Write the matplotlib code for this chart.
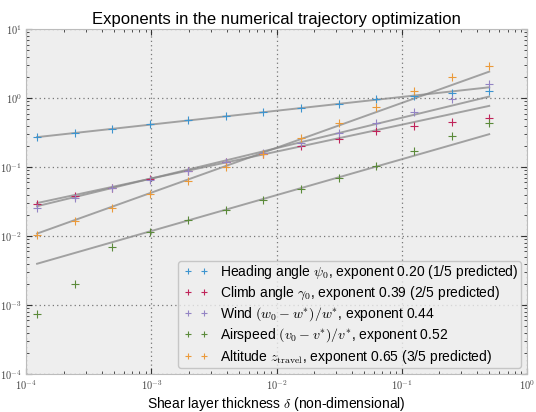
import numpy as np
import matplotlib
matplotlib.use("Agg")
import matplotlib.pyplot as plt
from matplotlib.ticker import FuncFormatter
from matplotlib.lines import Line2D
from matplotlib.legend_handler import HandlerLine2D

plt.rcParams['font.family'] = ['Liberation Sans', 'DejaVu Sans']
plt.rcParams['mathtext.fontset'] = 'cm'

# shear layer thickness values (delta = 2^-13 ... 2^-1)
delta = [1.22e-4, 2.44e-4, 4.88e-4, 9.77e-4, 1.95e-3, 3.91e-3, 7.81e-3,
         1.56e-2, 3.13e-2, 6.25e-2, 0.125, 0.25, 0.5]

heading = [0.278, 0.318, 0.363, 0.42, 0.48, 0.548, 0.627, 0.732, 0.837, 0.967, 1.08, 1.21, 1.29]
climb = [0.0288, 0.0384, 0.0507, 0.067, 0.0895, 0.118, 0.156, 0.201, 0.260, 0.333, 0.402, 0.459, 0.525]
wind = [0.0252, 0.0363, 0.0496, 0.0655, 0.0875, 0.117, 0.160, 0.223, 0.311, 0.434, 0.627, 0.978, 1.61]
airspeed = [7.5e-4, 2.04e-3, 6.9e-3, 0.0113, 0.0169, 0.0238, 0.0336, 0.048, 0.0693, 0.103, 0.172, 0.281, 0.444]
altitude = [0.0103, 0.0165, 0.0255, 0.0402, 0.0634, 0.1, 0.156, 0.269, 0.444, 0.757, 1.29, 2.01, 2.94]

# fitted power laws: exponent and fitted value at delta = 0.5
exponents = [0.20, 0.39, 0.44, 0.52, 0.65]
fit_at_half = [1.44, 0.774, 1.057, 0.301, 2.43]

labels = [
    r"Heading angle $\psi_0$, exponent 0.20 (1/5 predicted)",
    r"Climb angle $\gamma_0$, exponent 0.39 (2/5 predicted)",
    r"Wind $(w_0-w^{*})/w^{*}$, exponent 0.44",
    r"Airspeed $(v_0-v^{*})/v^{*}$, exponent 0.52",
    r"Altitude $z_{\mathrm{travel}}$, exponent 0.65 (3/5 predicted)",
]
colors = ['#3d94cf', '#c0245a', '#9384c4', '#5b8a3a', '#eb9a3a']
series = [heading, climb, wind, airspeed, altitude]

fig = plt.figure(figsize=(5.36, 4.12), dpi=100)
ax = fig.add_axes([0.049, 0.092, 0.934, 0.837])
ax.set_facecolor('#eeeeee')

d = np.array(delta)
for ys, c, lab in zip(series, colors, labels):
    ax.plot(delta, ys, '+', color=c, ms=5.5, mew=0.8, label=lab, zorder=3)
for p, f in zip(exponents, fit_at_half):
    ax.plot(d, f * (d / 0.5) ** p, '-', color='#888888', alpha=0.75, lw=1.4, zorder=2)

ax.set_xscale('log')
ax.set_yscale('log')
ax.set_xlim(1e-4, 1)
ax.set_ylim(1e-4, 10)
fmt = FuncFormatter(lambda v, pos: r'$10^{%d}$' % int(round(np.log10(v))))
ax.xaxis.set_major_formatter(fmt)
ax.yaxis.set_major_formatter(fmt)
ax.grid(True, which='major', color='#777777', linestyle=(0, (1, 2.5)), linewidth=0.9)
ax.tick_params(which='both', direction='in', top=True, right=True, labelsize=7.5,
               colors='#333333', labelcolor='#444444')
ax.tick_params(which='major', length=4, pad=3)
ax.tick_params(which='minor', length=2)
for s in ax.spines.values():
    s.set_color('#bcbcbc')

ax.set_title("Exponents in the numerical trajectory optimization", fontsize=12, pad=4)
ax.set_xlabel(r"Shear layer thickness $\delta$ (non-dimensional)", fontsize=10, labelpad=2)

leg = ax.legend(loc='lower right', numpoints=2, fontsize=10, frameon=True,
                handlelength=2.3, handletextpad=0.6, borderpad=0.15, labelspacing=0.25,
                fancybox=True, borderaxespad=0.45, markerscale=0.85,
                handler_map={Line2D: HandlerLine2D(marker_pad=0.57)})
leg.get_frame().set_facecolor('#eeeeee')
leg.get_frame().set_edgecolor('#bcbcbc')

fig.savefig('out.png', dpi=100)
